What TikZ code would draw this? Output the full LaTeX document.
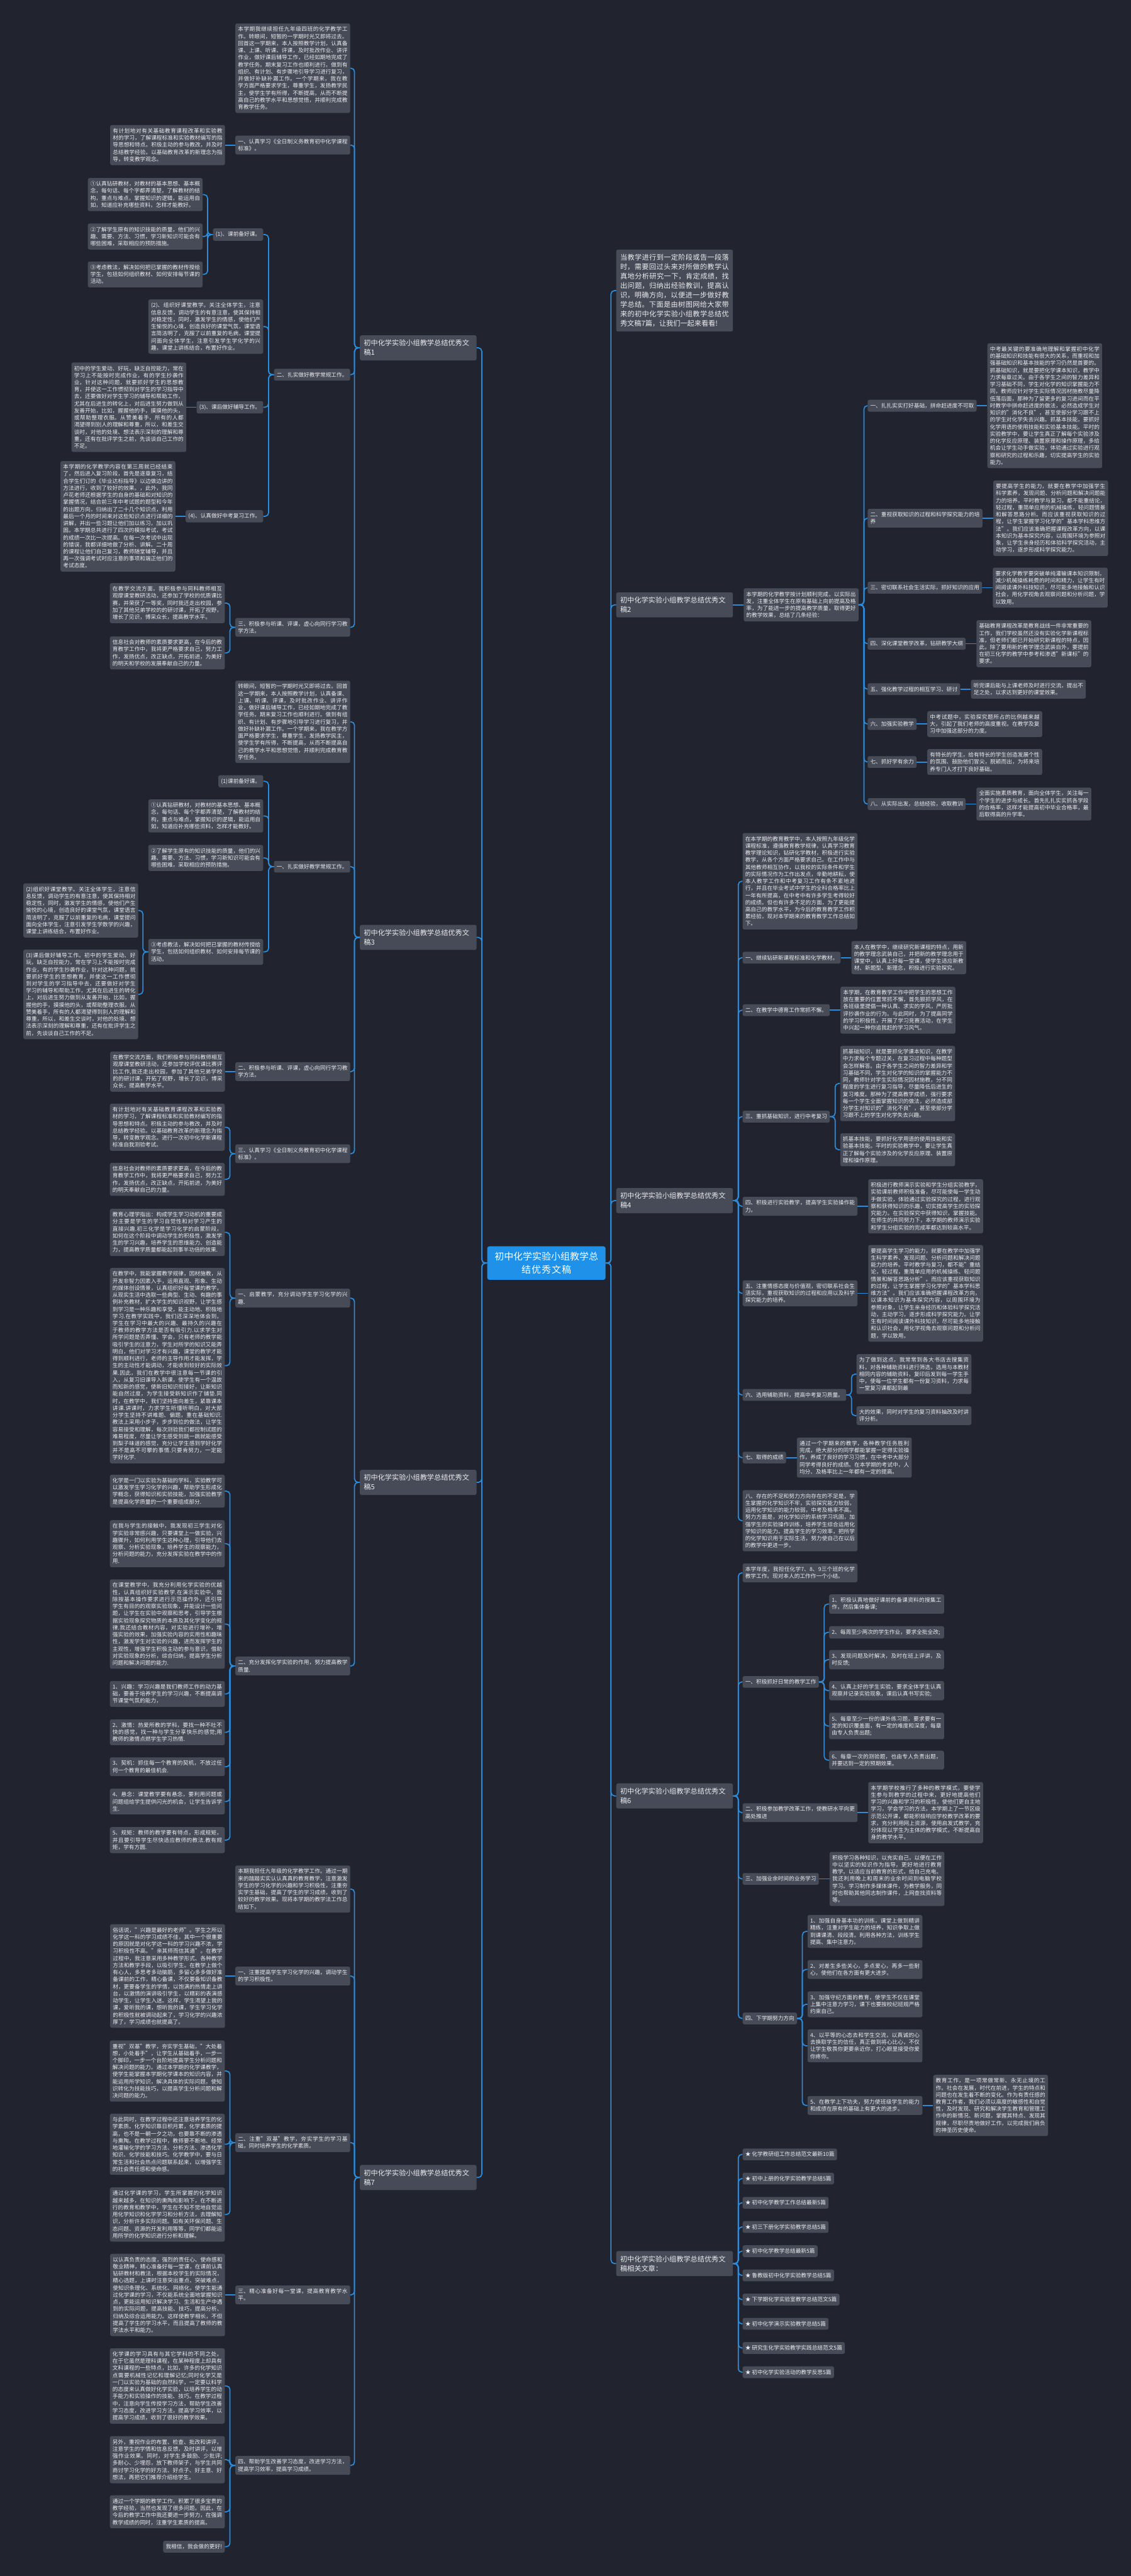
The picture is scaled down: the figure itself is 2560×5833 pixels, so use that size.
\documentclass[tikz,border=0pt]{standalone}
\usepackage{fontspec}
\setmainfont{Noto Sans CJK SC}
\usetikzlibrary{positioning}
\XeTeXlinebreaklocale "zh"
\XeTeXlinebreakskip=0pt plus 1pt
\definecolor{bg}{HTML}{21242E}
\definecolor{nodefill}{HTML}{474B58}
\definecolor{linkblue}{HTML}{2C8CDC}
\definecolor{rootblue}{HTML}{1F91E8}
\definecolor{txt}{HTML}{ECECEF}

\begin{document}
\begin{tikzpicture}[x=1pt,y=-1pt]
\tikzstyle{box}=[fill=nodefill,text=txt,rounded corners=4pt,inner xsep=6pt,inner ysep=7.5pt,font=\fontsize{12.35}{16}\selectfont]
\tikzstyle{para}=[box,text width=248pt,align=justify]
\tikzstyle{topic}=[box,text width=246pt,align=justify,inner xsep=9pt,inner ysep=10.3pt,font=\fontsize{15.9}{21.4}\selectfont]
\tikzstyle{root}=[fill=rootblue,text=white,rounded corners=5pt,text width=236pt,align=center,inner xsep=16pt,inner ysep=13pt,font=\fontsize{21.3}{30}\selectfont]
\tikzstyle{link}=[linkblue,line width=2.5pt,rounded corners=8pt]
\useasboundingbox (0,0) rectangle (2560,5833);
\fill[bg] (0,0) rectangle (2560,5833);
% ========= root
\node[root] (root) at (1237,2860) {初中化学实验小组教学总\\结优秀文稿};
% ========= left topics
\node[topic,anchor=north east] (w1) at (1079,759) {初中化学实验小组教学总结优秀文\\稿1};
\node[topic,anchor=north east] (w3) at (1079,2094) {初中化学实验小组教学总结优秀文\\稿3};
\node[topic,anchor=north east] (w5) at (1079,3328) {初中化学实验小组教学总结优秀文\\稿5};
\node[topic,anchor=north east] (w7) at (1079,4902) {初中化学实验小组教学总结优秀文\\稿7};
% ========= right topics
\node[topic,anchor=north west] (wi) at (1395,565) {当教学进行到一定阶段或告一段落时，需要回过头来对所做的教学认真地分析研究一下，肯定成绩，找出问题，归纳出经验教训，提高认识，明确方向，以便进一步做好教学总结。下面是由树图网给大家带来的初中化学实验小组教学总结优秀文稿7篇，让我们一起来看看!};
\node[topic,anchor=north west] (w2) at (1395,1341) {初中化学实验小组教学总结优秀文\\稿2};
\node[topic,anchor=north west] (w4) at (1395,2690) {初中化学实验小组教学总结优秀文\\稿4};
\node[topic,anchor=north west] (w6) at (1395,4038) {初中化学实验小组教学总结优秀文\\稿6};
\node[topic,anchor=north west] (wr) at (1395,5097) {初中化学实验小组教学总结优秀文\\稿相关文章：};

% ========= 文稿1
\node[para,anchor=north east] (w1p) at (793,53) {本学期我继续担任九年级四班的化学教学工作。转眼间，短暂的一学期时光又即将过去。回首这一学期来，本人按照教学计划，认真备课、上课、听课、评课，及时批改作业、讲评作业，做好课后辅导工作，已经如期地完成了教学任务。期末复习工作也顺利进行。做到有组织、有计划、有步骤地引导学习进行复习，并做好补缺补漏工作。一个学期来，我在教学方面严格要求学生，尊重学生，发扬教学民主，使学生学有所得，不断提高，从而不断提高自己的教学水平和思想觉悟，并顺利完成教育教学任务。};
\node[para,anchor=north east] (w1a) at (793,307) {一、认真学习《全日制义务教育初中化学课程标准》。};
\node[para,left=23pt of w1a] (w1a1) {有计划地对有关基础教育课程改革和实验教材的学习，了解课程标准和实验教材编写的指导思想和特点。积极主动的参与教改，并及时总结教学经验。以基础教育改革的新理念为指导，转变教学观念。};
\node[box,anchor=north east] (w1b) at (793,835) {二、扎实做好教学常规工作。};
\node[box,anchor=north east] (w1b1) at (596,517) {(1)、课前备好课。};
\node[para,anchor=north east] (w1b1a) at (459,403) {①认真钻研教材，对教材的基本思想、基本概念，每句话、每个字都弄清楚，了解教材的结构，重点与难点，掌握知识的逻辑，能运用自如，知道应补充哪些资料，怎样才能教好。};
\node[para,anchor=north east] (w1b1b) at (459,506) {②了解学生原有的知识技能的质量，他们的兴趣、需要、方法、习惯，学习新知识可能会有哪些困难，采取相应的预防措施。};
\node[para,anchor=north east] (w1b1c) at (459,592) {③考虑教法，解决如何把已掌握的教材传授给学生，包括如何组织教材、如何安排每节课的活动。};
\node[para,anchor=north east] (w1b2) at (596,678) {(2)、组织好课堂教学。关注全体学生，注意信息反馈，调动学生的有意注意，使其保持相对稳定性，同时，激发学生的情感，使他们产生愉悦的心境，创造良好的课堂气氛，课堂语言简洁明了，克服了以前重复的毛病，课堂提问面向全体学生，注意引发学生学化学的兴趣，课堂上讲练结合，布置好作业。};
\node[box,anchor=north east] (w1b3) at (596,908) {(3)、课后做好辅导工作。};
\node[para,left=23pt of w1b3] (w1b3a) {初中的学生爱动、好玩，缺乏自控能力，常在学习上不能按时完成作业，有的学生抄袭作业，针对这种问题，就要抓好学生的思想教育，并使这一工作惯彻到对学生的学习指导中去，还要做好对学生学习的辅导和帮助工作，尤其在后进生的转化上，对后进生努力做到从友善开始，比如，握握他的手，摸摸他的头，或帮助整理衣服。从赞美着手，所有的人都渴望得到别人的理解和尊重，所以，和差生交谈时，对他的处境、想法表示深刻的理解和尊重，还有在批评学生之前，先谈谈自己工作的不足。};
\node[box,anchor=north east] (w1b4) at (596,1155) {(4)、认真做好中考复习工作。};
\node[para,left=23pt of w1b4] (w1b4a) {本学期的化学教学内容在第三周就已经结束了，然后进入复习阶段，首先是逐章复习，结合学生们订的《毕业达标指导》以边做边讲的方法进行，收到了较好的效果。，此外，我同卢花老师还根据学生的自身的基础和对知识的掌握情况，结合前三年中考试题的题型和今年的出题方向，归纳出了二十几个知识点，利用最后一个月的时间来对这些知识点进行详细的讲解，并出一些习题让他们加以练习，加以巩固。本学期总共进行了四次的模拟考试，考试的成绩一次比一次提高。在每一次考试中出现的错误，我都详细地做了分析、讲解。二十周的课程让他们自己复习，教师随堂辅导，并且再一次强调考试时应注意的事项和端正他们的考试态度。};
\node[para,anchor=north east] (w1c) at (793,1399) {三、积极参与听课、评课，虚心向同行学习教学方法。};
\node[para,anchor=north east] (w1c1) at (509,1320) {在教学交流方面，我积极参与同科教师相互观摩课堂教研活动，还参加了学校的优质课比赛，并荣获了一等奖，同时我还走出校园，参加了其他兄弟学校的的研讨课，开拓了视野，增长了见识，博采众长，提高教学水平。};
\node[para,anchor=north east] (w1c2) at (509,1441) {信息社会对教师的素质要求更高，在今后的教育教学工作中，我将更严格要求自己，努力工作，发扬优点，改正缺点，开拓前进，为美好的明天和学校的发展奉献自己的力量。};

% ========= 文稿3
\node[para,anchor=north east] (w3p) at (793,1541) {转眼间，短暂的一学期时光又即将过去。回首这一学期来，本人按照教学计划，认真备课、上课、听课、评课，及时批改作业、讲评作业，做好课后辅导工作，已经如期地完成了教学任务。期末复习工作也顺利进行。做到有组织、有计划、有步骤地引导学习进行复习，并做好补缺补漏工作。一个学期来，我在教学方面严格要求学生，尊重学生，发扬教学民主，使学生学有所得，不断提高，从而不断提高自己的教学水平和思想觉悟，并顺利完成教育教学任务。};
\node[box,anchor=north east] (w3a) at (793,1949) {一、扎实做好教学常规工作。};
\node[box,anchor=north east] (w3a1) at (596,1755) {(1)课前备好课。};
\node[para,anchor=north east] (w3a2) at (596,1810) {①认真钻研教材，对教材的基本思想、基本概念，每句话、每个字都弄清楚，了解教材的结构，重点与难点，掌握知识的逻辑，能运用自如，知道应补充哪些资料，怎样才能教好。};
\node[para,anchor=north east] (w3a3) at (596,1913) {②了解学生原有的知识技能的质量，他们的兴趣、需要、方法、习惯，学习新知识可能会有哪些困难，采取相应的预防措施。};
\node[para,anchor=north east] (w3a4) at (596,2126) {③考虑教法，解决如何把已掌握的教材传授给学生，包括如何组织教材、如何安排每节课的活动。};
\node[para,anchor=north east] (w3a4a) at (313,2000) {(2)组织好课堂教学。关注全体学生，注意信息反馈，调动学生的有意注意，使其保持相对稳定性，同时，激发学生的情感，使他们产生愉悦的心境，创造良好的课堂气氛，课堂语言简洁明了，克服了以前重复的毛病，课堂提问面向全体学生，注意引发学生学数学的兴趣，课堂上讲练结合，布置好作业。};
\node[para,anchor=north east] (w3a4b) at (313,2150) {(3)课后做好辅导工作。初中的学生爱动、好玩，缺乏自控能力，常在学习上不能按时完成作业，有的学生抄袭作业，针对这种问题，就要抓好学生的思想教育，并使这一工作惯彻到对学生的学习指导中去，还要做好对学生学习的辅导和帮助工作，尤其在后进生的转化上，对后进生努力做到从友善开始，比如，握握他的手，摸摸他的头，或帮助整理衣服。从赞美着手，所有的人都渴望得到别人的理解和尊重，所以，和差生交谈时，对他的处境、想法表示深刻的理解和尊重，还有在批评学生之前，先谈谈自己工作的不足。};
\node[para,anchor=north east] (w3b) at (793,2405) {二、积极参与听课、评课，虚心向同行学习教学方法。};
\node[para,left=23pt of w3b] (w3b1) {在教学交流方面，我们积极参与同科教师相互观摩课堂教研活动，还参加学校评优课比赛评比工作,我还走出校园，参加了其他兄弟学校的的研讨课，开拓了视野，增长了见识，博采众长，提高教学水平。};
\node[para,anchor=north east] (w3c) at (793,2591) {三、认真学习《全日制义务教育初中化学课程标准》。};
\node[para,anchor=north east] (w3c1) at (509,2499) {有计划地对有关基础教育课程改革和实验教材的学习，了解课程标准和实验教材编写的指导思想和特点。积极主动的参与教改，并及时总结教学经验。以基础教育改革的新理念为指导，转变教学观念。进行一次初中化学新课程标准自我测验考试。};
\node[para,anchor=north east] (w3c2) at (509,2633) {信息社会对教师的素质要求更高，在今后的教育教学工作中，我将更严格要求自己，努力工作，发扬优点，改正缺点，开拓前进，为美好的明天奉献自己的力量。};

% ========= 文稿5
\node[para,anchor=north east] (w5a) at (793,2918) {一、启蒙教学，充分调动学生学习化学的兴趣.};
\node[para,anchor=north east] (w5a1) at (509,2737) {教育心理学指出：构成学生学习动机的重要成分主要是学生的学习自觉性和对学习产生的直接兴趣.初三化学是学习化学的启蒙阶段，如何在这个阶段中调动学生的积极性，激发学生的学习兴趣，培养学生的思维能力、创造能力，提高教学质量都能起到事半功倍的效果.};
\node[para,anchor=north east] (w5a2) at (509,2871) {在教学中，我能掌握教学规律，因材施教，从开发非智力因素入手，运用直观、形象、生动的媒体创设情景，认真组织好每堂课的教学，从现实生活中选取一些典型、生动、有趣的事例补充教材，扩大学生的知识视野，让学生感到学习是一种乐趣和享受，能主动地、积极地学习.在教学实践中，我们还深深地体会到，学生在学习中最大的兴趣、最持久的兴趣在于教师的教学方法是否有吸引力.以求学生对所学问题是否弄懂、学会，只有老师的教学能吸引学生的注意力，学生对所学的知识又能弄明白，他们对学习才有兴趣，课堂的教学才能得到顺利进行，老师的主导作用才能发挥，学生的主动性才能调动，才能收到较好的实际效果.因此，我们在教学中很注意每一节课的引入，从复习旧课导入新课，使学生有一个温故而知新的感觉，使新旧知识衔接好，让新知识能自然过度，为学生接受新知识作了铺垫.同时，在教学中，我们坚持面向差生，紧靠课本讲课.讲课时，力求学生听懂听明白，对大部分学生坚持不讲难题、偏题，重在基础知识.教法上采用小步子，步步到位的做法，让学生容易接受和理解，每次测验我们都控制试题的难易程度，尽量让学生感受到跳一跳就能感受到梨子味道的感觉，充分让学生感到学好化学并不是高不可攀的事情.只要肯努力，一定能学好化学.};
\node[para,anchor=north east] (w5b) at (793,3751) {二、充分发挥化学实验的作用，努力提高教学质量.};
\node[para,anchor=north east] (w5b1) at (509,3339) {化学是一门以实验为基础的学科，实验教学可以激发学生学习化学的兴趣，帮助学生形成化学概念，获得知识和实验技能，加强实验教学是提高化学质量的一个重要组成部分.};
\node[para,anchor=north east] (w5b2) at (509,3442) {在我与学生的接触中，我发现初三学生对化学实验非常感兴趣，只要课堂上一做实验，兴趣骤升，如何利用学生这种心理，引导他们去观察、分析实验现象，培养学生的观察能力，分析问题的能力，充分发挥实验在教学中的作用.};
\node[para,anchor=north east] (w5b3) at (509,3576) {在课堂教学中，我充分利用化学实验的优越性，认真组织好实验教学.在演示实验中，我除按基本操作要求进行示范操作外，还引导学生有目的的观察实验现象，并能设计一些问题，让学生在实验中观察和思考，引导学生根据实验现象探究物质的本质及其化学变化的规律.我还结合教材内容，对实验进行增补，增强实验的效果，加强实验内容的实用性和趣味性，激发学生对实验的兴趣，进而发挥学生的主观性，增强学生积极主动的参与意识，借助对实验现象的分析，综合归纳，提高学生分析问题和解决问题的能力.};
\node[para,anchor=north east] (w5b4) at (509,3806) {1、兴趣：学习兴趣是我们教师工作的动力基础，要善于培养学生的学习兴趣，不断提高调节课堂气氛的能力，};
\node[para,anchor=north east] (w5b5) at (509,3893) {2、激情：热爱所教的学科，要找一种不吐不快的感觉，找一种与学生分享快乐的感觉;用教师的激情点燃学生学习热情.};
\node[para,anchor=north east] (w5b6) at (509,3979) {3、契机：抓住每一个教育的契机，不放过任何一个教育的最佳机会.};
\node[para,anchor=north east] (w5b7) at (509,4050) {4、悬念：课堂教学要有悬念，要利用问题或问题组给学生提供闪光的机会，让学生告诉学生.};
\node[para,anchor=north east] (w5b8) at (509,4137) {5、规矩：教师的教学要有特点，形成规矩，并且要引导学生尽快适应教师的教法.教有规矩，学有方圆.};

% ========= 文稿7
\node[para,anchor=north east] (w7p) at (793,4224) {本期我担任九年级的化学教学工作。通过一期来的踏踏实实认认真真的教育教学，注意激发学生的学习化学的兴趣和学习积极性，注重夯实学生基础，提高了学生的学习成绩，收到了较好的教学效果。现将本学期的教学法工作总结如下。};
\node[para,anchor=north east] (w7a) at (793,4453) {一、注重提高学生学习化学的兴趣，调动学生的学习积极性。};
\node[para,left=23pt of w7a] (w7a1) {俗话说，"兴趣是最好的老师"。学生之所以化学这一科的学习成绩不佳，其中一个很重要的原因就是对化学这一科的学习兴趣不浓，学习积极性不高。"亲其师而信其道"。在教学过程中，我注意采用多种教学形式、各种教学方法和教学手段，以吸引学生。在教学上做个有心人，多思考多动脑筋，多留心多多做好准备课前的工作，精心备课，不仅要备知识备教材，更要备学生的学情，以饱满的热情走上讲台，以激情的演讲吸引学生，以精彩的表演感动学生，让学生入迷。这样，学生渴望上我的课，爱听我的课，想听我的课，学生学习化学的积极性就被调动起来了，学习化学的兴趣浓厚了，学习成绩也就提高了。};
\node[para,anchor=north east] (w7b) at (793,4830) {二、注重"双基"教学，夯实学生的学习基础，同时培养学生的化学素质。};
\node[para,anchor=north east] (w7b1) at (509,4620) {重视"双基"教学，夯实学生基础，"大处着想，小处着手"，让学生从基础着手，一步一个脚印，一步一个台阶地提高学生分析问题和解决问题的能力。通过本学期的化学课教学，使学生能掌握本学期化学课本的知识内容，并能运用所学知识，解决具体的实际问题，使知识转化为技能技巧，以提高学生分析问题和解决问题的能力。};
\node[para,anchor=north east] (w7b2) at (509,4786) {与此同时，在教学过程中还注意培养学生的化学素质。化学知识靠日积月累，化学素质的提高，也不是一朝一夕之功，也要靠不断的渗透与熏陶。在教学过程中，教师要不断地、经常地灌输化学的学习方法、分析方法、渗透化学知识、化学技能和技巧。化学教学中，要与日常生活和社会热点问题联系起来，以增强学生的社会责任感和使命感。};
\node[para,anchor=north east] (w7b3) at (509,4953) {通过化学课的学习，学生所掌握的化学知识越来越多，在知识的熏陶和影响下，在不断进行的教育和教学中，学生在不知不觉地自觉运用化学知识和化学学习和分析方法，去理解知识，分析许多实际问题。如有关环保问题、生态问题、资源的开发利用等等，同学们都能运用所学的化学知识进行分析和理解。};
\node[para,anchor=north east] (w7c) at (793,5175) {三、精心准备好每一堂课，提高教育教学水平。};
\node[para,left=23pt of w7c] (w7c1) {以认真负责的态度，强烈的责任心、使命感和敬业精神，精心准备好每一堂课，在课前认真钻研教材和教法，根据本校学生的实际情况，精心选题，上课时注意突出重点、突破难点，使知识条理化、系统化、网络化，使学生能通过化学课的学习，不仅能系统全面地掌握知识点，更能运用知识解决学习、生活和生产中遇到的实际问题，提高技能、技巧，提高分析、归纳及综合运用能力。这样使教学相长，不但提高了学生的学习水平，而且提高了教师的教学法水平和能力。};
\node[para,anchor=north east] (w7d) at (793,5561) {四、帮助学生改善学习态度，改进学习方法，提高学习效率，提高学习成绩。};
\node[para,anchor=north east] (w7d1) at (509,5317) {化学课的学习具有与其它学科的不同之处，在于它虽然是理科课程，在某种程度上却具有文科课程的一些特点，比如，许多的化学知识点需要机械性记忆和理解记忆;同时化学又是一门以实验为基础的自然科学，一定要以科学的态度来认真做好化学实验，以培养学生的动手能力和实验操作的技能、技巧。在教学过程中，注意向学生传授学习方法，帮助学生改善学习态度，改进学习方法，提高学习效率，以提高学习成绩，收到了很好的教学效果。};
\node[para,anchor=north east] (w7d2) at (509,5516) {另外，重视作业的布置、检查、批改和讲评，注意学生的学情和信息反馈，及时讲评，以增强作业效果。同时，对学生多鼓励、少批评;多耐心、少埋怨，放下教师架子，与学生共同商讨学习化学的好方法、好点子、好主意、好想法，再把它们推荐介绍给学生。};
\node[para,anchor=north east] (w7d3) at (509,5650) {通过一个学期的教学工作，积累了很多宝贵的教学经验，当然也发现了很多问题。因此，在今后的教学工作中我还要进一步努力，在强调教学成绩的同时，注重学生素质的提高。};
\node[box,anchor=north east] (w7d4) at (509,5753) {我相信，我会做的更好!};

% ========= 文稿2
\node[para,right=24pt of w2] (w2p) {本学期的化学教学按计划顺利完成，以实际出发，注重全体学生在原有基础上向前提高及格率，为了能进一步的提高教学质量，取得更好的教学效果，总结了几条经验：};
\node[box,anchor=north west] (w2a) at (1964,905) {一、扎扎实实打好基础，拼命赶进度不可取};
\node[para,right=24pt of w2a] (w2a1) {中考最关键的要准确地理解和掌握初中化学的基础知识和技能有很大的关系，而重视和加强基础知识和基本技能的学习仍然是首要的。抓基础知识，就是要把化学课本知识，教学中力求每章过关。由于各学生之间的智力差异和学习基础不同，学生对化学的知识掌握能力不同，教师应针对学生实际情况因材施教尽量降低落后面，那种为了留更多的复习进间而在平时教学中拼命赶进度的做法，必然造成学生对知识的"消化不良"，甚至使部分学习跟不上的学生对化学失去兴趣。抓基本技能，要抓好化学用语的使用技能和实验基本技能。平时的实验教学中，要让学生真正了解每个实验涉及的化学反应原理、装置原理和操作原理，多给机会让学生动手做实验，体验通过实验进行观察和研究的过程和乐趣，切实提高学生的实验能力。};
\node[para,anchor=north west] (w2b) at (1964,1152) {二、重视获取知识的过程和科学探究能力的培养};
\node[para,right=24pt of w2b] (w2b1) {要提高学生的能力，就要在教学中加强学生科学素养，发现问题、分析问题和解决问题能力的培养。平时教学与复习，都不能重结论，轻过程，重简单应用的机械操练，轻问题情景和解答思路分析。而应该重视获取知识的过程，让学生掌握学习化学的"基本学科思维方法"。我们应该准确把握课程改革方向，以课本知识为基本探究内容，以周围环境为参照对象，让学生亲身经历和体验科学探究活动，主动学习，逐步形成科学探究能力。};
\node[box,anchor=north west] (w2c) at (1964,1317) {三、密切联系社会生活实际，抓好知识的应用};
\node[para,right=24pt of w2c] (w2c1) {要求化学教学要突破单纯灌输课本知识限制，减少机械操练耗费的时间和精力，让学生有时间阅读课外科技知识，尽可能多地接触和认识社会，用化学视角去观察问题和分析问题，学以致用。};
\node[box,anchor=north west] (w2d) at (1964,1444) {四、深化课堂教学改革，钻研教学大纲};
\node[para,right=24pt of w2d] (w2d1) {基础教育课程改革是教育战线一件非常重要的工作，我们学校虽然还没有实验化学新课程标准，但老师们都已开始研究新课程的特点，因此，除了要用新的教学理念武装自外，要提前在初三化学的教学中参考和渗透"新课标"的要求。};
\node[box,anchor=north west] (w2e) at (1964,1547) {五、强化教学过程的相互学习、研讨};
\node[para,right=24pt of w2e] (w2e1) {听完课后能与上课老师及时进行交流，提出不足之处，以求达到更好的课堂效果。};
\node[box,anchor=north west] (w2f) at (1964,1626) {六、加强实验教学};
\node[para,right=24pt of w2f] (w2f1) {中考试题中，实验探究题所占的比例越来越大，引起了我们老师的高度重视。在教学及复习中加强这部分的力度。};
\node[box,anchor=north west] (w2g) at (1964,1712) {七、抓好学有余力};
\node[para,right=24pt of w2g] (w2g1) {有特长的学生，给有特长的学生创造发展个性的氛围、鼓励他们冒尖，脱颖而出，为将来培养专门人才打下良好基础。};
\node[box,anchor=north west] (w2h) at (1964,1807) {八、从实际出发，总结经验，收取教训};
\node[para,right=24pt of w2h] (w2h1) {全面实施素质教育，面向全体学生，关注每一个学生的进步与成长。首先扎扎实实抓各学段的合格率，这样才能提高初中毕业合格率，最后取得高的升学率。};

% ========= 文稿4
\node[para,anchor=north west] (w4p) at (1681,1886) {在本学期的教育教学中，本人按照九年级化学课程标准，遵循教育教学规律，认真学习教育教学理论知识，钻研化学教材，积极进行实验教学，从各个方面严格要求自己。在工作中与其他教师相互协作，以我校的实际条件和学生的实际情况作为工作出发点，辛勤地耕耘，使本人教学工作和中考复习工作有条不紊地进行，并且在毕业考试中学生的全科合格率比上一年有所提高，在中考中有许多学生考得较好的成绩。但也有许多不足的方面，为了更能提高自己的教学水平，为今后的教育教学工作积累经验，现对本学期来的教育教学工作总结如下。};
\node[box,anchor=north west] (w4a) at (1681,2155) {一、继续钻研新课程标准和化学教材。};
\node[para,right=24pt of w4a] (w4a1) {本人在教学中，继续研究新课程的特点，用新的教学理念武装自己，并把新的教学理念用于课堂中，认真上好每一堂课，使学生适应新教材、新题型、新理念，积极进行实验探究。};
\node[box,anchor=north west] (w4b) at (1681,2274) {二、在教学中德育工作常抓不懈。};
\node[para,right=24pt of w4b] (w4b1) {本学期，在教育教学工作中把学生的思想工作放在重要的位置常抓不懈，首先狠抓学风，在各班级里提倡一种认真、求实的学风，严厉批评抄袭作业的行为。与此同时，为了提高同学的学习积极性，开展了学习竞赛活动，在学生中兴起一种你追我赶的学习风气。};
\node[box,anchor=north west] (w4c) at (1681,2515) {三、重抓基础知识，进行中考复习};
\node[para,anchor=north west] (w4c1) at (1902,2368) {抓基础知识，就是要抓化学课本知识，在教学中力求每个专题过关，在复习过程中每种题型会怎样解答。由于各学生之间的智力差异和学习基础不同，学生对化学的知识的掌握能力不同，教师针对学生实际情况因材施教，分不同程度的学生进行复习指导，尽量降低后进生的复习难度。那种为了提高教学成绩，强行要求每一个学生全面掌握知识的做法，必然造成部分学生对知识的"消化不良"，甚至使部分学习跟不上的学生对化学失去兴趣。};
\node[para,anchor=north west] (w4c2) at (1902,2566) {抓基本技能，要抓好化学用语的使用技能和实验基本技能。平时的实验教学中，要让学生真正了解每个实验涉及的化学反应原理、装置原理和操作原理。};
\node[para,anchor=north west] (w4d) at (1681,2710) {四、积极进行实验教学，提高学生实验操作能力。};
\node[para,right=24pt of w4d] (w4d1) {积极进行教师演示实验和学生分组实验教学，实验课前教师积极准备，尽可能使每一学生动手做实验，体验通过实验探究的过程，进行观察和获得知识的乐趣，切实提高学生的实验探究能力。在实验探究中获得知识，掌握技能。在师生的共同努力下，本学期的教师演示实验和学生分组实验的完成率都达到较高水平。};
\node[para,anchor=north west] (w4e) at (1681,2899) {五、注重情感态度与价值观，密切联系社会生活实际，重视获取知识的过程和应用以及科学探究能力的培养。};
\node[para,right=24pt of w4e] (w4e1) {要提高学生学习的能力，就要在教学中加强学生科学素养、发现问题、分析问题和解决问题能力的培养。平时教学与复习，都不能"重结论，轻过程，重简单应用的机械操练、轻问题情景和解答思路分析"。而应该重视获取知识的过程，让学生掌握学习化学的"基本学科思维方法"。我们应该准确把握课程改革方向，以课本知识为基本探究内容，以周围环境为参照对象，让学生亲身经历和体验科学探究活动，主动学习，逐步形成科学探究能力。让学生有时间阅读课外科技知识，尽可能多地接触和认识社会，用化学视角去观察问题和分析问题，学以致用。};
\node[box,anchor=north west] (w4f) at (1681,3145) {六、选用辅助资料，提高中考复习质量。};
\node[para,anchor=north west] (w4f1) at (1939,3066) {为了做到这点，我常常到各大书店去搜集资料，对各种辅助资料进行筛选，选用与本教材相同内容的辅助资料，复印后发到每一学生手中，使每一位学生都有一份复习资料，力求每一堂复习课都起到最};
\node[para,anchor=north west] (w4f2) at (1939,3184) {大的效果，同时对学生的复习资料抽改及时讲评分析。};
\node[box,anchor=north west] (w4g) at (1681,3287) {七、取得的成绩};
\node[para,right=24pt of w4g] (w4g1) {通过一个学期来的教学，各种教学任务胜利完成，绝大部分的同学都能掌握一定得实验操作，养成了良好的学习习惯，在中考中大部分同学考得良好的成绩。在本学期的考试中，人均分、及格率比上一年都有一定的提高。};
\node[para,anchor=north west] (w4h) at (1681,3374) {八、存在的不足和努力方向存在的不足是，学生掌握的化学知识不牢，实验探究能力较弱，运用化学知识的能力较弱，中考及格率不高。努力方面是，对化学知识的系统学习巩固，加强学生的实验操作训练，培养学生综合运用化学知识的能力。提高学生的学习效率，把所学的化学知识用于实际生活，努力使自己在以后的教学中更进一步。};

% ========= 文稿6
\node[para,anchor=north west] (w6p) at (1681,3540) {本学年度，我担任化学7、8、9三个班的化学教学工作。现对本人的工作作一个小结。};
\node[box,anchor=north west] (w6a) at (1681,3795) {一、积极抓好日常的教学工作};
\node[para,anchor=north west] (w6a1) at (1877,3610) {1、积极认真地做好课前的备课资料的搜集工作，然后集体备课;};
\node[para,anchor=north west] (w6a2) at (1877,3682) {2、每周至少两次的学生作业，要求全批全改;};
\node[para,anchor=north west] (w6a3) at (1877,3736) {3、发现问题及时解决，及时在班上评讲，及时反馈;};
\node[para,anchor=north west] (w6a4) at (1877,3806) {4、认真上好的学生实验，要求全体学生认真观察并记录实验现象，课后认真书写实验;};
\node[para,anchor=north west] (w6a5) at (1877,3878) {5、每章至少一份的课外练习题，要求要有一定的知识覆盖面，有一定的难度和深度，每章由专人负责出题;};
\node[para,anchor=north west] (w6a6) at (1877,3964) {6、每章一次的测验题，也由专人负责出题，并要达到一定的预期效果。};
\node[para,anchor=north west] (w6b) at (1681,4083) {二、积极参加教学改革工作，使教研水平向更高处推进};
\node[para,right=24pt of w6b] (w6b1) {本学期学校推行了多种的教学模式，要使学生参与到教学的过程中来，更好地提高他们学习的兴趣和学习的积极性，使他们更自主地学习，学会学习的方法。本学期上了一节区级示范公开课，都能积极响应学校教学改革的要求，充分利用网上资源，使用启发式教学，充分体现以学生为主体的教学模式，不断提高自身的教学水平。};
\node[box,anchor=north west] (w6c) at (1681,4241) {三、加强业余时间的业务学习};
\node[para,right=24pt of w6c] (w6c1) {积极学习各种知识，以充实自己，以便在工作中以坚实的知识作为指导，更好地进行教育教学。以适应当前教育的形式，给自己充电。我还利用晚上和周末的业余时间到电脑学校学习。学习制作多媒体课件，为教学服务，同时也帮助其他同志制作课件，上网查找资料等等。};
\node[box,anchor=north west] (w6d) at (1681,4557) {四、下学期努力方向};
\node[para,anchor=north west] (w6d1) at (1828,4336) {1、加强自身基本功的训练，课堂上做到精讲精练，注重对学生能力的培养，知识争取上做到课课清、段段清。利用各种方法，训练学生提高、集中注意力。};
\node[para,anchor=north west] (w6d2) at (1828,4438) {2、对差生多些关心，多点爱心，再多一些耐心，使他们在各方面有更大进步。};
\node[para,anchor=north west] (w6d3) at (1828,4509) {3、加强守纪方面的教育，使学生不仅在课堂上集中注意力学习，课下也要按校纪班规严格约束自己。};
\node[para,anchor=north west] (w6d4) at (1828,4595) {4、以平等的心态去和学生交流，以真诚的心去换取学生的信任，真正做到将心比心，不仅让学生敬畏你更要亲近你，打心眼里接受你爱你疼你。};
\node[para,anchor=north west] (w6d5) at (1828,4746) {5、在教学上下功夫，努力使班级学生的能力和成绩在原有的基础上有更大的进步。};
\node[para,right=24pt of w6d5] (w6d5a) {教育工作，是一项常做常新、永无止境的工作。社会在发展，时代在前进，学生的特点和问题也在发生着不断的变化。作为有责任感的教育工作者，我们必须以高度的敏感性和自觉性，及时发现、研究和解决学生教育和管理工作中的新情况、新问题，掌握其特点、发现其规律，尽职尽责地做好工作，以完成我们肩负的神圣历史使命。};

% ========= related
\foreach \t [count=\i] in {化学教研组工作总结范文最新10篇,初中上册的化学实验教学总结5篇,初中化学教学工作总结最新5篇,初三下册化学实验教学总结5篇,初中化学教学总结最新5篇,鲁教版初中化学实验教学总结5篇,下学期化学实验室教学总结范文5篇,初中化学演示实验教学总结5篇,研究生化学实验教学实践总结范文5篇,初中化学实验活动的教学反思5篇}
  \node[box,anchor=north west] (wr\i) at (1681,4810+54.8*\i) {★ \t};

% ====== connections
\foreach \p/\c in {root/w1,root/w3,root/w5,root/w7,%
w1/w1p,w1/w1a,w1/w1b,w1/w1c,w1b/w1b1,w1b/w1b2,w1b/w1b3,w1b/w1b4,%
w1b1/w1b1a,w1b1/w1b1b,w1b1/w1b1c,w1c/w1c1,w1c/w1c2,%
w3/w3p,w3/w3a,w3/w3b,w3/w3c,w3a/w3a1,w3a/w3a2,w3a/w3a3,w3a/w3a4,%
w3a4/w3a4a,w3a4/w3a4b,w3c/w3c1,w3c/w3c2,%
w5/w5a,w5/w5b,w5a/w5a1,w5a/w5a2,w5b/w5b1,w5b/w5b2,w5b/w5b3,w5b/w5b4,%
w5b/w5b5,w5b/w5b6,w5b/w5b7,w5b/w5b8,%
w7/w7p,w7/w7a,w7/w7b,w7/w7c,w7/w7d,w7b/w7b1,w7b/w7b2,w7b/w7b3,%
w7d/w7d1,w7d/w7d2,w7d/w7d3,w7d/w7d4}
  \draw[link] (\p.west) -- ++(-12,0) |- (\c.east);
\foreach \p/\c in {w1a/w1a1,w1b3/w1b3a,w1b4/w1b4a,w3b/w3b1,w7a/w7a1,w7c/w7c1}
  \draw[link] (\p.west) -- (\c.east);
\foreach \p/\c in {root/wi,root/w2,root/w4,root/w6,root/wr,%
w2p/w2a,w2p/w2b,w2p/w2c,w2p/w2d,w2p/w2e,w2p/w2f,w2p/w2g,w2p/w2h,%
w4/w4p,w4/w4a,w4/w4b,w4/w4c,w4/w4d,w4/w4e,w4/w4f,w4/w4g,w4/w4h,%
w4c/w4c1,w4c/w4c2,w4f/w4f1,w4f/w4f2,%
w6/w6p,w6/w6a,w6/w6b,w6/w6c,w6/w6d,w6a/w6a1,w6a/w6a2,w6a/w6a3,%
w6a/w6a4,w6a/w6a5,w6a/w6a6,w6d/w6d1,w6d/w6d2,w6d/w6d3,w6d/w6d4,w6d/w6d5}
  \draw[link] (\p.east) -- ++(12,0) |- (\c.west);
\foreach \i in {1,...,10}
  \draw[link] (wr.east) -- ++(12,0) |- (wr\i.west);
\foreach \p/\c in {w2/w2p,w2a/w2a1,w2b/w2b1,w2c/w2c1,w2d/w2d1,w2e/w2e1,%
w2f/w2f1,w2g/w2g1,w2h/w2h1,w4a/w4a1,w4b/w4b1,w4d/w4d1,w4e/w4e1,w4g/w4g1,%
w6b/w6b1,w6c/w6c1,w6d5/w6d5a}
  \draw[link] (\p.east) -- (\c.west);
\end{tikzpicture}
\end{document}
